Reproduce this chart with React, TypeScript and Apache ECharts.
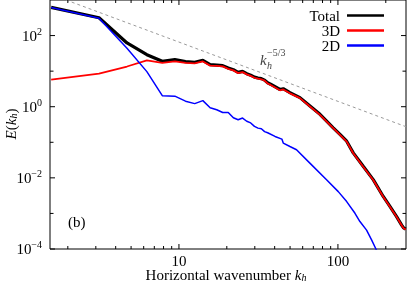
import React, { useEffect, useRef } from "react";
import * as echarts from "echarts";

const X_MIN = 1.545;
const X_MAX = 268;
const Y_MIN = 1e-4;
const Y_MAX = 1e3;

const FONT = "Liberation Serif";

// wavenumbers shared by Total and 3D
const kTot = [1.571, 3.142, 4.712, 6.283, 7.854, 9.425, 10.996, 12.566, 14.137, 15.708, 17.28, 18.85, 20.42, 21.99, 23.56, 25.13, 26.7, 28.27, 29.85, 31.42, 32.99, 34.56, 36.13, 37.7, 43.2, 45.3, 49.9, 57.7, 66.7, 77.1, 84.9, 93.4, 103, 113.5, 124.8, 144.2, 166.7, 192.7, 212.3, 233.9, 251.6, 258.8, 267];
const eTotal = [620, 316, 62, 29, 18.9, 21.1, 18.5, 17.7, 20.2, 15.2, 14.8, 14.3, 12.3, 11.0, 9.25, 9.87, 8.5, 7.7, 6.8, 6.4, 6.15, 5.6, 4.7, 4.3, 3.05, 3.2, 2.48, 1.8, 1.05, 0.61, 0.395, 0.256, 0.166, 0.107, 0.0505, 0.0211, 0.0089, 0.003, 0.00157, 0.00081, 0.00047, 0.00039, 0.00036];
const e3D = [5.8, 8.5, 13.5, 20, 17.0, 18.9, 17.1, 16.5, 18.7, 14.3, 14.0, 13.6, 11.6, 10.5, 8.8, 9.4, 8.1, 7.35, 6.5, 6.15, 5.9, 5.4, 4.5, 4.1, 2.9, 3.05, 2.38, 1.74, 1.01, 0.59, 0.383, 0.249, 0.162, 0.104, 0.049, 0.0206, 0.0087, 0.00295, 0.00155, 0.0008, 0.000465, 0.000385, 0.000355];

const k2D = [1.571, 3.142, 4.712, 6.283, 7.854, 9.425, 10.996, 12.566, 14.137, 15.708, 17.28, 18.85, 20.42, 21.99, 23.56, 25.13, 26.7, 28.27, 29.85, 31.42, 32.99, 34.56, 36.13, 40.2, 44.4, 45.3, 49.9, 54.9, 66.6, 84.8, 100.5, 113.5, 128, 137.5, 151.4, 162.8, 173.4, 183.7];
const e2D = [612, 307, 44, 9.7, 2.04, 1.98, 1.43, 1.22, 1.48, 0.94, 0.82, 0.69, 0.69, 0.49, 0.43, 0.48, 0.39, 0.35, 0.28, 0.25, 0.24, 0.2, 0.185, 0.146, 0.123, 0.095, 0.076, 0.0615, 0.026, 0.0088, 0.0041, 0.00215, 0.00101, 0.00059, 0.00034, 0.00018, 0.0001, 0.000056];

const kRef = [1.95, 268];
const eRef = [1000, 0.274];

const xMajorTicks = [10, 100];
const xMinorTicks = [2, 3, 4, 5, 6, 7, 8, 9, 20, 30, 40, 50, 60, 70, 80, 90, 200];
const yMajorTicks = [1e-4, 1e-2, 1, 1e2];
const yMinorTicks = [1e-3, 1e-1, 10];

const zip = (ks: number[], es: number[]) => ks.map((k, i) => [k, es[i]]);

export default function App() {
  const ref = useRef<HTMLDivElement>(null);
  useEffect(() => {
    if (!ref.current) return;
    const chart = echarts.init(ref.current, null, { renderer: "svg" });
    const supRich = {
      sup: { fontSize: 10, fontFamily: FONT, color: "#000", verticalAlign: "bottom", padding: [0, 0, 9, 0] },
    };
    const nameRich = {
      n: { fontFamily: FONT, fontSize: 15, lineHeight: 13, color: "#000" },
      it: { fontFamily: FONT, fontSize: 15, lineHeight: 13, fontStyle: "italic", color: "#000" },
      sub: { fontFamily: FONT, fontSize: 10, lineHeight: 9, fontStyle: "italic", color: "#000", verticalAlign: "top", padding: [4, 0, 0, 0] },
    };
    const xTickData = [
      ...xMajorTicks.map((v) => [v, Y_MIN, 1]),
      ...xMinorTicks.map((v) => [v, Y_MIN, 0]),
    ];
    const yTickData = [
      ...yMajorTicks.map((v) => [X_MIN, v, 1]),
      ...yMinorTicks.map((v) => [X_MIN, v, 0]),
    ];
    const option: any = {
      animation: false,
      grid: { left: 50, right: 1, top: 0, bottom: 34, show: true, borderColor: "#000", borderWidth: 1, outerBoundsMode: "none" },
      xAxis: {
        type: "log",
        min: X_MIN,
        max: X_MAX,
        splitNumber: 3,
        axisLine: { show: false },
        axisTick: { show: false },
        splitLine: { show: false },
        axisLabel: {
          margin: 5,
          fontFamily: FONT,
          fontSize: 15,
          lineHeight: 13,
          color: "#000",
          formatter: (v: number) => {
            const l = Math.log10(v);
            return Math.abs(l - Math.round(l)) < 1e-6 && (Math.round(l) === 1 || Math.round(l) === 2) ? String(Math.round(v)) : "";
          },
        },
      },
      yAxis: {
        type: "log",
        min: Y_MIN,
        max: Y_MAX,
        splitNumber: 7,
        axisLine: { show: false },
        axisTick: { show: false },
        splitLine: { show: false },
        axisLabel: {
          margin: 8,
          fontFamily: FONT,
          fontSize: 15,
          color: "#000",
          rich: supRich,
          formatter: (v: number) => {
            const l = Math.log10(v);
            const e = Math.round(l);
            if (Math.abs(l - e) > 1e-6 || e % 2 !== 0 || e > 2) return "";
            return "10{sup|" + (e < 0 ? "\u2212" + -e : String(e)) + "}";
          },
        },
      },
      legend: {
        data: ["Total", "3D", "2D"],
        orient: "vertical",
        right: 18,
        top: 3,
        align: "right",
        icon: "rect",
        itemWidth: 37,
        itemHeight: 2.5,
        itemGap: 0,
        textStyle: { fontFamily: FONT, fontSize: 15, color: "#000", width: 32, align: "right", lineHeight: 14, padding: [0, 2, 0, 0] },
      },
      series: [
        {
          name: "ref",
          type: "line",
          data: zip(kRef, eRef),
          symbol: "none",
          lineStyle: { color: "#9a9a9a", width: 1, type: [3, 3] },
          z: 1,
        },
        {
          name: "Total",
          type: "line",
          data: zip(kTot, eTotal),
          symbol: "none",
          color: "#000",
          lineStyle: { color: "#000", width: 3.2 },
          z: 2,
        },
        {
          name: "3D",
          type: "line",
          data: zip(kTot, e3D),
          symbol: "none",
          color: "#ff0000",
          lineStyle: { color: "#ff0000", width: 1.8 },
          z: 3,
        },
        {
          name: "2D",
          type: "line",
          data: zip(k2D, e2D),
          symbol: "none",
          color: "#0000ff",
          lineStyle: { color: "#0000ff", width: 1.5 },
          z: 4,
        },
        {
          name: "xticks",
          type: "custom",
          data: xTickData,
          encode: { x: 0, y: 1 },
          clip: false,
          silent: true,
          z: 10,
          renderItem: (_p: any, api: any) => {
            const v = api.value(0);
            const len = api.value(2) ? 5 : 3;
            const b = api.coord([v, Y_MIN]);
            const t = api.coord([v, Y_MAX]);
            return {
              type: "group",
              children: [
                { type: "line", shape: { x1: b[0], y1: b[1], x2: b[0], y2: b[1] - len }, style: { stroke: "#000", lineWidth: 1 } },
                { type: "line", shape: { x1: t[0], y1: t[1], x2: t[0], y2: t[1] + len }, style: { stroke: "#000", lineWidth: 1 } },
              ],
            };
          },
        },
        {
          name: "yticks",
          type: "custom",
          data: yTickData,
          encode: { x: 0, y: 1 },
          clip: false,
          silent: true,
          z: 10,
          renderItem: (_p: any, api: any) => {
            const v = api.value(1);
            const len = api.value(2) ? 5 : 3.5;
            const l = api.coord([X_MIN, v]);
            const r = api.coord([X_MAX, v]);
            return {
              type: "group",
              children: [
                { type: "line", shape: { x1: l[0], y1: l[1], x2: l[0] + len, y2: l[1] }, style: { stroke: "#000", lineWidth: 1 } },
                { type: "line", shape: { x1: r[0], y1: r[1], x2: r[0] - len, y2: r[1] }, style: { stroke: "#000", lineWidth: 1 } },
              ],
            };
          },
        },
      ],
      graphic: [
        {
          type: "text",
          x: 226,
          y: 275,
          style: { text: "{n|Horizontal wavenumber }{it|k}{sub|h}", rich: nameRich, align: "center", verticalAlign: "middle", fontFamily: FONT, fontSize: 15, fill: "#000" },
        },
        {
          type: "text",
          x: 11,
          y: 124,
          rotation: Math.PI / 2,
          style: { text: "{it|E}{n|(}{it|k}{sub|h}{n|)}", rich: nameRich, align: "center", verticalAlign: "middle", fontFamily: FONT, fontSize: 15, fill: "#000" },
        },
        { type: "text", left: 68, top: 214, style: { text: "(b)", font: `15px "${FONT}"`, fill: "#000" } },
        { type: "text", left: 260, top: 52, style: { text: "k", font: `italic 15px "${FONT}"`, fill: "#444" } },
        { type: "text", left: 267, top: 60, style: { text: "h", font: `italic 10px "${FONT}"`, fill: "#444" } },
        { type: "text", left: 267, top: 47, style: { text: "\u22125/3", font: `10px "${FONT}"`, fill: "#444" } },
      ],
    };
    chart.setOption(option);
    return () => chart.dispose();
  }, []);
  return <div ref={ref} style={{ position: "fixed", left: 0, top: 0, width: 407, height: 283 }} />;
}
